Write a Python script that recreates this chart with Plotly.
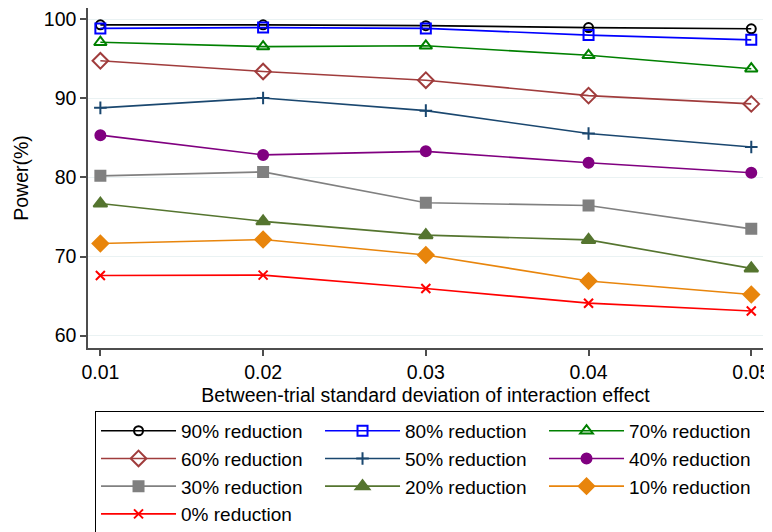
import plotly.graph_objects as go

x_sd = [0.01, 0.02, 0.03, 0.04, 0.05]
tick_vals_y = [60, 70, 80, 90, 100]
tick_vals_x = [0.01, 0.02, 0.03, 0.04, 0.05]
tick_text_x = ["0.01", "0.02", "0.03", "0.04", "0.05"]

red90 = [99.3, 99.3, 99.2, 98.95, 98.8]
red80 = [98.85, 98.95, 98.85, 98.0, 97.4]
red70 = [97.1, 96.55, 96.65, 95.45, 93.75]
red60 = [94.75, 93.4, 92.3, 90.35, 89.3]
red50 = [88.8, 90.05, 88.45, 85.55, 83.85]
red40 = [85.35, 82.85, 83.3, 81.85, 80.6]
red30 = [80.2, 80.7, 76.8, 76.45, 73.5]
red20 = [76.7, 74.45, 72.7, 72.1, 68.5]
red10 = [71.65, 72.15, 70.2, 66.9, 65.2]
red0 = [67.6, 67.65, 65.95, 64.1, 63.1]

names = ["90% reduction", "80% reduction", "70% reduction", "60% reduction",
         "50% reduction", "40% reduction", "30% reduction", "20% reduction",
         "10% reduction", "0% reduction"]
series = [red90, red80, red70, red60, red50, red40, red30, red20, red10, red0]
colors = ["#000000", "#0000ff", "#008000", "#a03c3c", "#1a476f",
          "#800080", "#808080", "#55752f", "#e8850c", "#ff0000"]
symbols = ["circle-open", "square-open", "triangle-up-open", "diamond-open",
           "cross-thin", "circle", "square", "triangle-up", "diamond", "x-thin"]
sizes = [9, 10, 11, 12, 9, 10, 10, 12, 12, 9]

fig = go.Figure()
for name, ys, c, s, sz in zip(names, series, colors, symbols, sizes):
    fig.add_trace(go.Scatter(
        x=x_sd, y=ys, name=name, mode="lines+markers",
        line=dict(color=c, width=1.6),
        marker=dict(symbol=s, size=sz, color=c, line=dict(color=c, width=2)),
    ))

font_family = "Liberation Sans, Arial, sans-serif"
axis_col = "#4d4d4d"
fig.update_layout(
    width=764, height=524,
    margin=dict(l=80, r=9, t=0, b=184, autoexpand=False),
    paper_bgcolor="white", plot_bgcolor="white",
    font=dict(family=font_family, size=19, color="#000000"),
    showlegend=True,
    legend=dict(
        orientation="h", x=0.0104, y=-0.185, xanchor="left", yanchor="top",
        entrywidth=134, entrywidthmode="pixels", itemwidth=75,
        bordercolor="#000000", borderwidth=1, bgcolor="white",
        font=dict(family=font_family, size=19, color="#000000"),
        traceorder="normal",
    ),
    xaxis=dict(
        range=[0.00924, 0.05072], tickvals=tick_vals_x, ticktext=tick_text_x,
        showgrid=False, zeroline=False, showline=True, linecolor=axis_col,
        linewidth=1.5, ticks="outside", ticklen=6, tickwidth=1.5,
        tickcolor=axis_col, tickfont=dict(size=19.5), automargin=False,
        title=dict(text="Between-trial standard deviation of interaction effect",
                   font=dict(size=19.5), standoff=6),
    ),
    yaxis=dict(
        range=[58.43, 101.43], tickvals=tick_vals_y,
        showgrid=True, gridcolor="#eaf2f3", gridwidth=1, zeroline=False,
        showline=True, linecolor=axis_col, linewidth=1.5, ticks="outside",
        ticklen=6, tickwidth=1.5, tickcolor=axis_col, tickfont=dict(size=19.5),
        automargin=False,
        title=dict(text="Power(%)", font=dict(size=19.5), standoff=10),
    ),
)

fig.write_html("out.html")
